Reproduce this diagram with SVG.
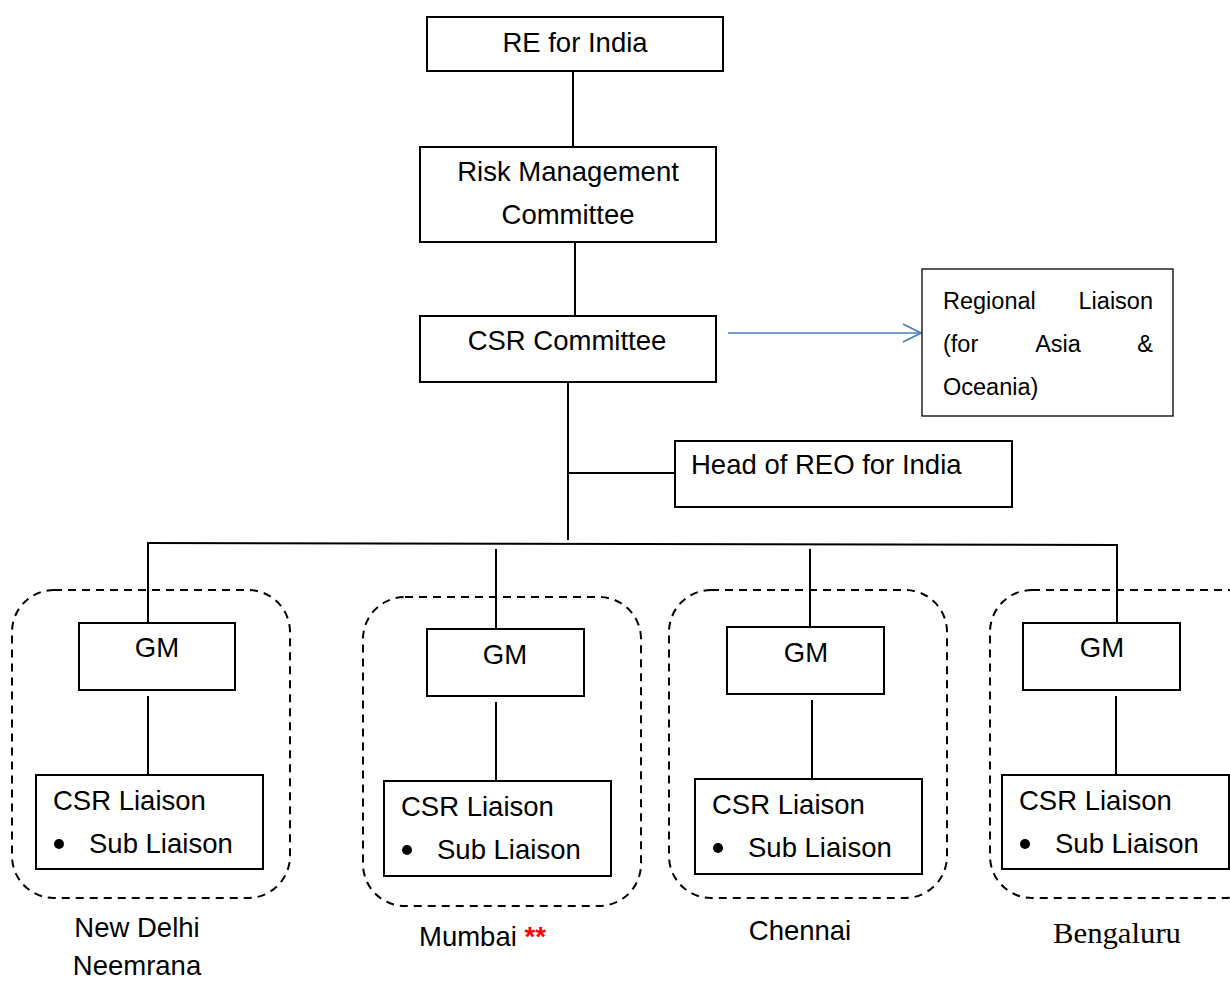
<svg xmlns="http://www.w3.org/2000/svg" width="1230" height="981" viewBox="0 0 1230 981">
<defs>
<style>
.box{fill:#fff;stroke:#000;stroke-width:2}
.grp{fill:none;stroke:#000;stroke-width:2;stroke-dasharray:8 6}
.ln{stroke:#000;stroke-width:2;fill:none}
.t{font-family:"Liberation Sans",Arial,sans-serif;font-size:27.5px;fill:#000}
.s{font-family:"Liberation Sans",Arial,sans-serif;font-size:23.5px;fill:#000}
.c{text-anchor:middle}
</style>
<marker id="arr" viewBox="0 0 20 20" refX="19" refY="10" markerWidth="20" markerHeight="20" markerUnits="userSpaceOnUse" orient="auto">
<path d="M1,1 L19,10 L1,19" fill="none" stroke="#4a7ebb" stroke-width="1.6"/>
</marker>
</defs>
<rect width="1230" height="981" fill="#fff"/>

<g id="groups">
<rect class="grp" x="12" y="590" width="278" height="308" rx="42"/>
<rect class="grp" x="363" y="597" width="278" height="309" rx="42"/>
<rect class="grp" x="669" y="590" width="278" height="308" rx="42"/>
<rect class="grp" x="990" y="590" width="278" height="308" rx="42"/>
</g>

<g id="connectors">
<line class="ln" x1="573" y1="71" x2="573" y2="147"/>
<line class="ln" x1="575" y1="242" x2="575" y2="316"/>
<line x1="728" y1="333" x2="921" y2="333" stroke="#4a7ebb" stroke-width="1.6" marker-end="url(#arr)"/>
<line class="ln" x1="568" y1="382" x2="568" y2="540"/>
<line class="ln" x1="568" y1="473" x2="675" y2="473"/>
<line class="ln" x1="147" y1="543" x2="1118" y2="545"/>
<line class="ln" x1="148" y1="543" x2="148" y2="623"/>
<line class="ln" x1="496" y1="549" x2="496" y2="629"/>
<line class="ln" x1="810" y1="549" x2="810" y2="627"/>
<line class="ln" x1="1117" y1="545" x2="1117" y2="623"/>
<line class="ln" x1="148" y1="696" x2="148" y2="775"/>
<line class="ln" x1="496" y1="702" x2="496" y2="781"/>
<line class="ln" x1="812" y1="700" x2="812" y2="779"/>
<line class="ln" x1="1116" y1="696" x2="1116" y2="775"/>
</g>

<g id="re-india">
<rect class="box" x="427" y="17" width="296" height="54"/>
<text class="t c" x="575" y="52">RE for India</text>
</g>
<g id="risk-mgmt">
<rect class="box" x="420" y="147" width="296" height="95"/>
<text class="t c" x="568" y="181">Risk Management</text>
<text class="t c" x="568" y="224">Committee</text>
</g>
<g id="csr-committee">
<rect class="box" x="420" y="316" width="296" height="66"/>
<text class="t c" x="567" y="350">CSR Committee</text>
</g>
<g id="regional-liaison">
<rect x="922" y="269" width="251" height="147" fill="#fff" stroke="#000" stroke-width="1.3"/>
<text class="s" x="943" y="309">Regional</text>
<text class="s" x="1153" y="309" text-anchor="end">Liaison</text>
<text class="s" x="943" y="352">(for</text>
<text class="s" x="1058" y="352" text-anchor="middle">Asia</text>
<text class="s" x="1153" y="352" text-anchor="end">&amp;</text>
<text class="s" x="943" y="395">Oceania)</text>
</g>
<g id="head-reo">
<rect class="box" x="675" y="441" width="337" height="66"/>
<text class="t" x="691" y="474">Head of REO for India</text>
</g>

<g id="gm-1"><rect class="box" x="79" y="623" width="156" height="67"/><text class="t c" x="157" y="657">GM</text></g>
<g id="gm-2"><rect class="box" x="427" y="629" width="157" height="67"/><text class="t c" x="505" y="664">GM</text></g>
<g id="gm-3"><rect class="box" x="727" y="627" width="157" height="67"/><text class="t c" x="806" y="662">GM</text></g>
<g id="gm-4"><rect class="box" x="1023" y="623" width="157" height="67"/><text class="t c" x="1102" y="657">GM</text></g>

<g id="csr-1"><rect class="box" x="36" y="775" width="227" height="94"/>
<text class="t" x="53" y="810">CSR Liaison</text><circle cx="59" cy="844" r="5"/><text class="t" x="89" y="853">Sub Liaison</text></g>
<g id="csr-2"><rect class="box" x="384" y="781" width="227" height="95"/>
<text class="t" x="401" y="816">CSR Liaison</text><circle cx="407" cy="850" r="5"/><text class="t" x="437" y="859">Sub Liaison</text></g>
<g id="csr-3"><rect class="box" x="695" y="779" width="227" height="95"/>
<text class="t" x="712" y="814">CSR Liaison</text><circle cx="718" cy="848" r="5"/><text class="t" x="748" y="857">Sub Liaison</text></g>
<g id="csr-4"><rect class="box" x="1002" y="775" width="227" height="94"/>
<text class="t" x="1019" y="810">CSR Liaison</text><circle cx="1025" cy="844" r="5"/><text class="t" x="1055" y="853">Sub Liaison</text></g>

<g id="labels">
<text class="t c" x="137" y="937">New Delhi</text>
<text class="t c" x="137" y="975">Neemrana</text>
<text class="t" x="419" y="946">Mumbai <tspan fill="#ff0000" font-weight="bold">**</tspan></text>
<text class="t c" x="800" y="940">Chennai</text>
<text x="1053" y="943" textLength="128" lengthAdjust="spacingAndGlyphs" style="font-family:'Liberation Serif','Times New Roman',serif;font-size:29px;fill:#000">Bengaluru</text>
</g>
</svg>
